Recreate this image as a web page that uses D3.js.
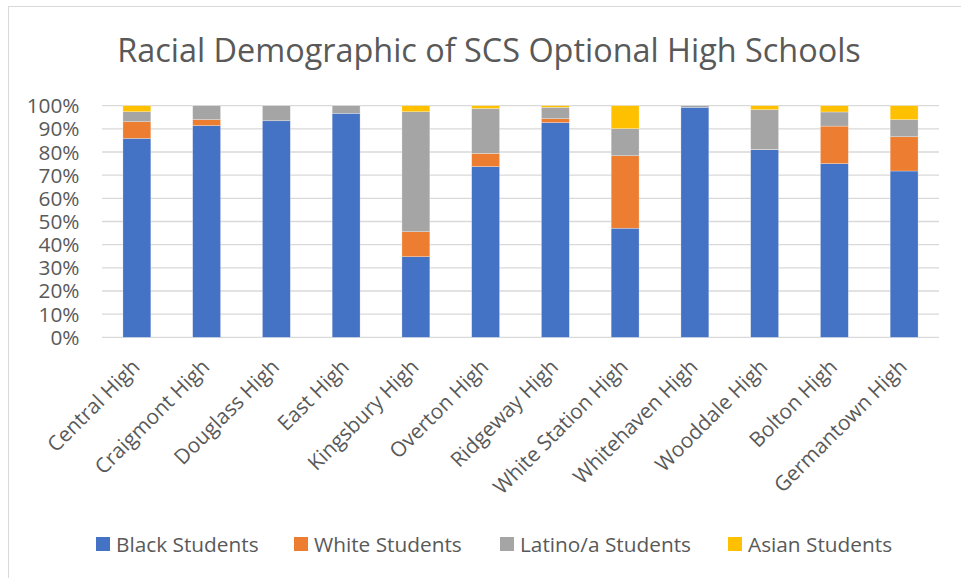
<!DOCTYPE html>
<html>
<head>
<meta charset="utf-8">
<script src="https://cdn.jsdelivr.net/npm/d3@7"></script>
<style>
  html, body { margin: 0; padding: 0; background: #fff; }
  svg { display: block; }
  text { font-family: "Open Sans", "Noto Sans", sans-serif; fill: #595959; }
</style>
</head>
<body>
<svg id="chart" width="961" height="578"></svg>
<script>
const categories = ["Central High", "Craigmont High", "Douglass High", "East High", "Kingsbury High",
  "Overton High", "Ridgeway High", "White Station High", "Whitehaven High", "Wooddale High",
  "Bolton High", "Germantown High"];
const blackStudents  = [85.9, 91.4, 93.5, 96.7, 34.8, 73.7, 92.7, 47.1, 99.3, 81.0, 75.0, 71.8];
const whiteStudents  = [7.2, 2.6, 0.0, 0.0, 10.8, 5.7, 1.7, 31.3, 0.0, 0.1, 16.2, 14.8];
const latinoStudents = [4.3, 6.0, 6.5, 3.3, 51.8, 19.4, 4.9, 11.7, 0.7, 17.2, 6.1, 7.4];
const asianStudents  = [2.6, 0.0, 0.0, 0.0, 2.6, 1.2, 0.7, 9.9, 0.0, 1.7, 2.7, 6.0];
const seriesNames = ["Black Students", "White Students", "Latino/a Students", "Asian Students"];
const tickValues = [0, 10, 20, 30, 40, 50, 60, 70, 80, 90, 100];
const chartTitle = "Racial Demographic of SCS Optional High Schools";

const colors = ["#4472C4", "#ED7D31", "#A5A5A5", "#FFC000"];
const keys = ["black", "white", "latino", "asian"];

const rows = categories.map((c, i) => ({
  name: c,
  black: blackStudents[i],
  white: whiteStudents[i],
  latino: latinoStudents[i],
  asian: asianStudents[i]
}));

const svg = d3.select("#chart");

// chart border (clipped at right/bottom like the reference)
svg.append("rect")
  .attr("x", 8.5).attr("y", 6.5)
  .attr("width", 1000).attr("height", 1000)
  .attr("fill", "none").attr("stroke", "#d9d9d9").attr("stroke-width", 1);

const plotLeft = 102, plotRight = 939, plotTop = 105.7, plotBottom = 337.3;
const fontSize = "20.8px";

const x = d3.scaleBand().domain(categories).range([plotLeft, plotRight])
  .paddingInner(0.6).paddingOuter(0.3);
const y = d3.scaleLinear().domain([0, 100]).range([plotBottom, plotTop]);

// title
svg.append("text")
  .attr("x", 489).attr("y", 62)
  .attr("text-anchor", "middle")
  .style("font-size", "32.4px")
  .text(chartTitle);

// gridlines
svg.append("g").selectAll("line").data(tickValues).join("line")
  .attr("x1", plotLeft).attr("x2", plotRight)
  .attr("y1", d => y(d)).attr("y2", d => y(d))
  .attr("stroke", "#d9d9d9").attr("stroke-width", 1.3);

// y labels
svg.append("g").selectAll("text").data(tickValues).join("text")
  .attr("x", 79.5).attr("y", d => y(d))
  .attr("dy", "0.36em")
  .attr("text-anchor", "end")
  .style("font-size", fontSize)
  .text(d => d + "%");

// stacked bars
const stacked = d3.stack().keys(keys)(rows);

svg.append("g").selectAll("g").data(stacked).join("g")
  .attr("fill", (d, i) => colors[i])
  .selectAll("rect").data(d => d).join("rect")
  .attr("x", d => x(d.data.name))
  .attr("width", x.bandwidth())
  .attr("y", d => y(d[1]))
  .attr("height", d => Math.max(0, y(d[0]) - y(d[1])))
  .attr("stroke", "#ffffff").attr("stroke-opacity", 0.45).attr("stroke-width", 0.6);

// category labels
svg.append("g").selectAll("text").data(categories).join("text")
  .attr("transform", d => `translate(${x(d) + x.bandwidth() / 2 - 1},${363}) rotate(-45)`)
  .attr("text-anchor", "end")
  .attr("dy", "0.35em")
  .style("font-size", fontSize)
  .text(d => d);

// legend
const legendX = [96, 294, 500, 728];
const lg = svg.append("g").selectAll("g").data(seriesNames).join("g")
  .attr("transform", (d, i) => `translate(${legendX[i]},537)`);
lg.append("rect").attr("width", 14).attr("height", 14)
  .attr("fill", (d, i) => colors[i]);
lg.append("text").attr("x", 20).attr("y", 7).attr("dy", "0.36em")
  .style("font-size", fontSize)
  .text(d => d);
</script>
</body>
</html>
